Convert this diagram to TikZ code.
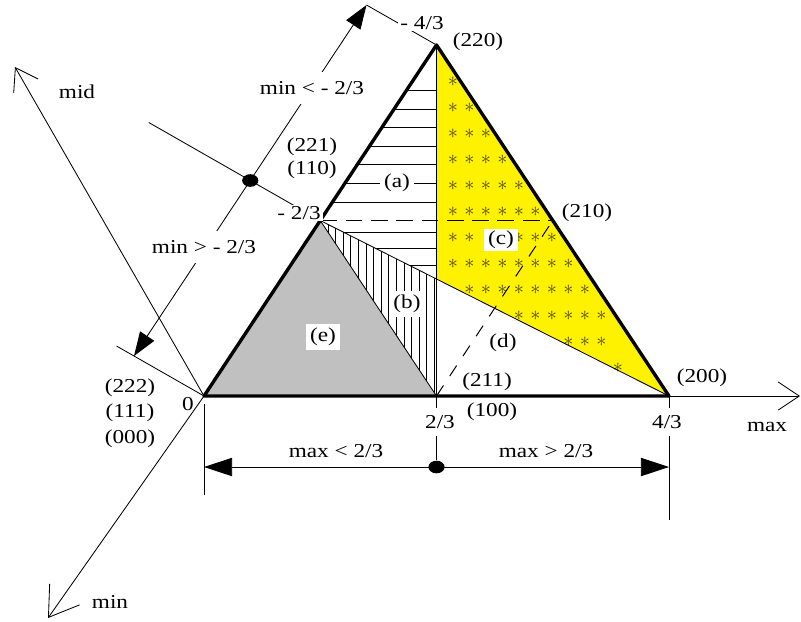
\documentclass[tikz,border=0pt]{standalone}
\usepackage{fontspec}
\setmainfont{Liberation Serif}[FakeStretch=1.18]
\usetikzlibrary{arrows.meta,positioning,shapes.geometric,calc}
\definecolor{regyellow}{RGB}{255,242,0}
\definecolor{reggray}{RGB}{192,192,192}
\definecolor{starcol}{RGB}{75,70,10}

\begin{document}
\begin{tikzpicture}[
    x=0.025cm, y=-0.025cm,
    edge/.style={line width=2.4pt, line join=round},
    thinline/.style={line width=0.6pt},
    axis/.style={line width=0.6pt, -{Straight Barb[length=15pt,width=20pt]}},
    dimline/.style={line width=0.6pt, {Triangle[length=20pt,width=13pt]}-{Triangle[length=20pt,width=13pt]}},
    slantdim/.style={line width=0.6pt, {Triangle[length=17pt,width=12pt]}-{Triangle[length=17pt,width=12pt]}},
    hatch/.style={line width=0.5pt},
    dashline/.style={line width=0.7pt, dash pattern=on 12pt off 6pt},
    lbl/.style={font=\fontsize{14}{16}\selectfont, inner sep=1pt},
    region/.style={lbl, fill=white, inner sep=3pt},
    cut/.style={lbl, fill=white, inner xsep=2pt, inner ysep=5pt},
    dot/.style={ellipse, fill, inner sep=0pt, minimum width=11.5pt, minimum height=9pt},
    ast/.style={font=\fontsize{14}{14}\selectfont, inner sep=0pt, text=starcol}
    ]
    \useasboundingbox (0,0) rectangle (801,621);

    \coordinate (O) at (204,396);
    \coordinate (A) at (436.5,45);
    \coordinate (B) at (669,396);
    \coordinate (ML) at ($(O)!0.5!(A)$);
    \coordinate (MR) at ($(A)!0.5!(B)$);
    \coordinate (MB) at ($(O)!0.5!(B)$);
    \coordinate (P) at ($(ML)!1/3!(B)$);

    \fill[reggray] (O) -- (ML) -- (MB) -- cycle;
    \fill[regyellow] (A) -- (B) -- (P) -- cycle;

    \begin{scope}
        \clip (ML) -- (A) -- (P) -- cycle;
        \foreach \y in {90,109,127,146,164,183,202,232,248,265}
            \draw[hatch] (300,\y) -- (437,\y);
    \end{scope}
    \begin{scope}
        \clip (ML) -- (P) -- (MB) -- cycle;
        \foreach \x in {328,335.6,...,437}
            \draw[hatch] (\x,210) -- (\x,400);
    \end{scope}

    \foreach \y/\a/\b in {82/0/0,108/0/1,134/0/2,160/0/3,186/0/4,212/0/5,238/0/1,238/4/6,264/0/7,290/1/8,316/4/9,342/7/9,368/10/10}
        \foreach \k in {\a,...,\b}
            \node[ast] at ({453+16.5*\k},\y) {$\ast$};

    \draw[thinline] (ML) -- (MB);
    \draw[thinline] (A) -- (MB);
    \draw[thinline] (ML) -- (B);
    \draw[dashline] (ML) -- (MR);
    \draw[line width=0.7pt, dash pattern=on 9pt off 8pt] (MB) -- (MR);
    \draw[edge] (O) -- (A) -- (B) -- cycle;

    \coordinate (maxtip) at (800,396);
    \coordinate (midtip) at (15,67);
    \coordinate (mintip) at (48,618);
    \draw[axis] (O) -- (maxtip);
    \draw[axis] (O) -- (midtip);
    \draw[axis, -{Straight Barb[length=20pt,width=26pt]}] (O) -- (mintip);

    \coordinate (T1) at ($(O)+(-70,-40)$);
    \coordinate (T2) at ($(ML)+(-70,-40)$);
    \coordinate (T3) at ($(A)+(-70,-40)$);
    \draw[thinline] (O) -- ($(O)!1.25!(T1)$);
    \draw[thinline] (ML) -- ($(ML)!2.45!(T2)$);
    \draw[thinline] (A) -- (T3);
    \draw[slantdim] (T1) -- (T3);
    \node[dot] (dotmin) at (T2) {};

    \coordinate (E0a) at (204,404);
    \coordinate (E0b) at (204,495);
    \coordinate (E4b) at (669,520);
    \coordinate (L0) at (204,467);
    \coordinate (L4) at (669,467);
    \node[dot] (dotmax) at (436.5,467) {};
    \draw[thinline] (E0a) -- (E0b);
    \draw[thinline] (B) -- (E4b);
    \draw[thinline] (MB) -- (dotmax);
    \draw[dimline] (L0) -- (L4);

    \node[lbl] (l220) at (478,42) {(220)};
    \node[lbl] (l210) at (587,213) {(210)};
    \node[lbl] (l200) at (702,378) {(200)};
    \node[lbl] (l211) at (487,382) {(211)};
    \node[lbl] (l100) at (492,412) {(100)};
    \node[lbl] (l221) at (312,147) {(221)};
    \node[lbl] (l110) at (312,170) {(110)};
    \node[lbl] (l222) at (130,388) {(222)};
    \node[lbl] (l111) at (130,413) {(111)};
    \node[lbl] (l000) at (130,439) {(000)};
    \node[lbl] (zero) at (188,404) {0};
    \node[cut] (twothirds) at (440,422) {2/3};
    \node[cut] (fourthirds) at (667,422) {4/3};
    \node[lbl] (maxlbl) at (767,427) {max};
    \node[lbl] (maxlow) at (336,451) {max < 2/3};
    \node[lbl] (maxhigh) at (546,451) {max > 2/3};
    \node[cut, inner ysep=1pt] (mtwo) at (299,213) {- 2/3};
    \node[cut, inner ysep=1pt] (mfour) at (422,23) {- 4/3};
    \node[cut, inner ysep=7pt] (minlow) at (312,88) {min < - 2/3};
    \node[cut, inner ysep=7pt] (minhigh) at (204,247) {min > - 2/3};
    \node[lbl] (midlbl) at (77,92) {mid};
    \node[lbl] (minlbl) at (110,602) {min};

    \node[region] (ra) at (397,183) {(a)};
    \node[region] (rb) at (407,304) {(b)};
    \node[region, inner ysep=1.5pt] (rc) at (501,240) {(c)};
    \node[lbl] (rd) at (503,343) {(d)};
    \node[region] (re) at (323,337) {(e)};
\end{tikzpicture}
\end{document}
